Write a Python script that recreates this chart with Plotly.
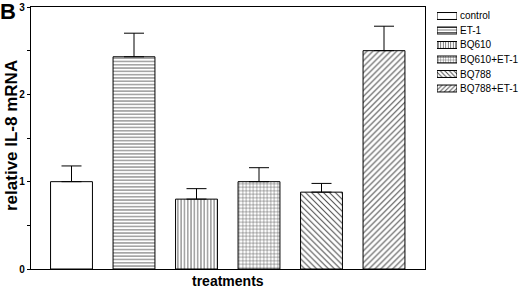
import plotly.graph_objects as go

categories = ["control", "ET-1", "BQ610", "BQ610+ET-1", "BQ788", "BQ788+ET-1"]
means = [1.00, 2.43, 0.80, 1.00, 0.88, 2.50]
err_upper = [0.18, 0.27, 0.12, 0.16, 0.10, 0.28]
patterns = ["", "-", "|", "+", "\\", "/"]
pattern_sizes = [4, 3.3, 3.3, 3.5, 4.2, 4.2]
y_ticks = [0, 1, 2, 3]
legend_swatch_len = [1, 1, 1, 1, 1, 1]

FONT = "Liberation Sans, Arial, sans-serif"

# geometry helpers (pixels -> paper)
L, R, T, B, W, H = 31, 0, 7, 21, 520, 290
PW = W - L - R
PH = H - T - B
def px(x):
    return (x - L) / PW
def py(y):
    return (H - B - y) / PH

fig = go.Figure()

for i, cat in enumerate(categories):
    fig.add_trace(go.Bar(
        x=[i], y=[means[i]],
        width=0.67,
        name=cat,
        showlegend=False,
        marker=dict(
            color="white",
            line=dict(color="black", width=1),
            pattern=dict(shape=patterns[i], fgcolor="black", bgcolor="white",
                         size=pattern_sizes[i], solidity=0.25, fgopacity=0.7),
        ),
        error_y=dict(type="data", symmetric=False, array=[err_upper[i]],
                     arrayminus=[0], color="black", thickness=1, width=10),
        xaxis="x", yaxis="y",
    ))

# custom legend swatches drawn as bars on a small auxiliary axis
for i, cat in enumerate(categories):
    fig.add_trace(go.Bar(
        x=[legend_swatch_len[i]], y=[i], orientation="h",
        width=0.48,
        showlegend=False,
        hoverinfo="skip",
        marker=dict(
            color="white",
            line=dict(color="black", width=1),
            pattern=dict(shape=patterns[i], fgcolor="black", bgcolor="white",
                         size=max(2.5, pattern_sizes[i] - 1), solidity=0.3, fgopacity=0.7),
        ),
        xaxis="x2", yaxis="y2",
    ))

annotations = []
for i, cat in enumerate(categories):
    annotations.append(dict(
        x=px(458), y=i, xref="paper", yref="y2", text=cat, showarrow=False,
        xanchor="left", yanchor="middle",
        font=dict(family=FONT, size=10, color="black"),
    ))

annotations += [
    dict(x=px(-2), y=py(-3), xref="paper", yref="paper", text="<b>B</b>",
         showarrow=False, xanchor="left", yanchor="top",
         font=dict(family=FONT, size=22, color="black")),
    dict(x=px(11), y=py(136), xref="paper", yref="paper",
         text="<b>relative IL-8 mRNA</b>", textangle=-90, showarrow=False,
         xanchor="center", yanchor="middle",
         font=dict(family=FONT, size=17, color="black")),
    dict(x=px(228), y=py(281), xref="paper", yref="paper",
         text="<b>treatments</b>", showarrow=False,
         xanchor="center", yanchor="middle",
         font=dict(family=FONT, size=14, color="black")),
]

fig.update_layout(
    width=W, height=H,
    margin=dict(l=L, r=R, t=T, b=B, pad=0),
    paper_bgcolor="white", plot_bgcolor="white",
    barmode="overlay",
    showlegend=False,
    annotations=annotations,
    xaxis=dict(
        domain=[0, px(425)], range=[-0.648, 5.656],
        showticklabels=False, ticks="", showgrid=False, zeroline=False,
        showline=True, linecolor="black", linewidth=1.3, mirror=True,
        fixedrange=True,
    ),
    yaxis=dict(
        range=[0, 3], tickvals=y_ticks, ticktext=[str(v) for v in y_ticks],
        ticks="outside", ticklen=3, tickcolor="black", tickwidth=1,
        minor=dict(dtick=0.5, ticks="outside", ticklen=3, tickcolor="black"),
        tickfont=dict(family=FONT, size=10, color="black", weight="bold"),
        showgrid=False, zeroline=False,
        showline=True, linecolor="black", linewidth=1.3, mirror=True,
        fixedrange=True,
    ),
    xaxis2=dict(
        domain=[px(437), px(457)], range=[0, 1], anchor="y2",
        visible=False, fixedrange=True,
    ),
    yaxis2=dict(
        domain=[py(95.75), py(8.75)], range=[5.5, -0.5], anchor="x2",
        visible=False, fixedrange=True,
    ),
)

fig.write_html(
    "out.html",
    config={"displayModeBar": False},
    post_script="document.body.style.margin='0';document.body.style.overflow='hidden';",
)
